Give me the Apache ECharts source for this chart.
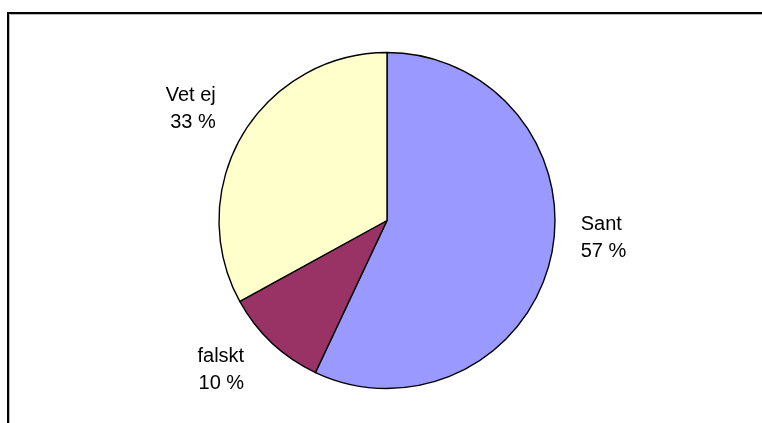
<!DOCTYPE html>
<html>
<head>
<meta charset="utf-8">
<style>
  html, body { margin: 0; padding: 0; background: #fff; }
  #chart { width: 762px; height: 423px; }
</style>
<script src="https://cdn.jsdelivr.net/npm/echarts@6/dist/echarts.min.js"></script>
</head>
<body>
<div id="chart"></div>
<script>
// Answer shares, clockwise from 12 o'clock
const categories = ['Sant', 'falskt', 'Vet ej'];
const shares = [57, 10, 33];
const sliceColors = ['#9999FF', '#993366', '#FFFFCC'];

// small per-label nudges (px) applied after ECharts places outside labels
const labelNudge = [
  { dx: 5, dy: -21 },
  { dx: -6, dy: 20 },
  { dx: -3, dy: -21 }
];

const chart = echarts.init(document.getElementById('chart'), null, { renderer: 'canvas' });

chart.setOption({
  animation: false,
  backgroundColor: '#ffffff',
  graphic: [
    {
      type: 'rect',
      silent: true,
      shape: { x: 9.5, y: 14.5, width: 900, height: 600 },
      style: { fill: 'none', stroke: '#b8b8b8', lineWidth: 1 }
    },
    {
      type: 'rect',
      silent: true,
      shape: { x: 8, y: 13, width: 900, height: 600 },
      style: { fill: 'none', stroke: '#000000', lineWidth: 2 }
    }
  ],
  series: [{
    type: 'pie',
    center: [387, 220.5],
    radius: 168,
    startAngle: 90,
    clockwise: true,
    avoidLabelOverlap: false,
    silent: true,
    itemStyle: { borderColor: '#000000', borderWidth: 1.4 },
    label: {
      show: true,
      position: 'outside',
      formatter: p => p.name + '\n' + p.value + ' %',
      fontFamily: 'Liberation Sans, Arial, sans-serif',
      fontSize: 20,
      lineHeight: 27,
      color: '#000000'
    },
    labelLine: { show: false, length: 10, length2: 10 },
    labelLayout: params => labelNudge[params.dataIndex],
    data: categories.map((name, i) => ({
      name: name,
      value: shares[i],
      itemStyle: { color: sliceColors[i] }
    }))
  }]
});
</script>
</body>
</html>
